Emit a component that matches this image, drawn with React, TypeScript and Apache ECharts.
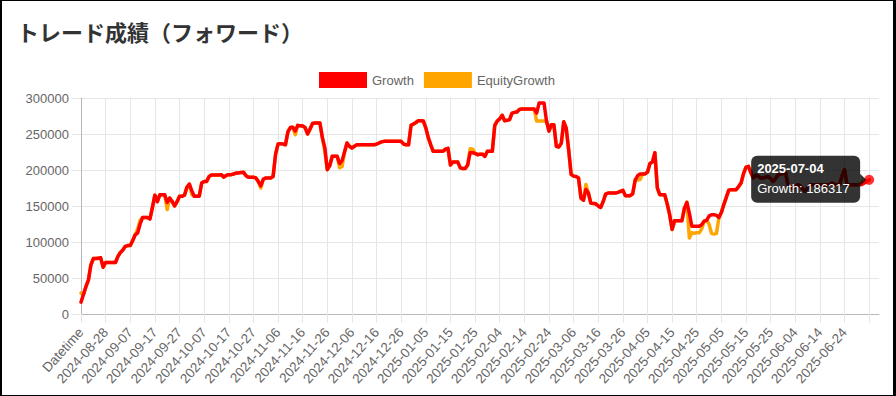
import React, { useEffect, useRef } from "react";
import * as echarts from "echarts";

const TITLE = "トレード成績（フォワード）";
const SERIES_NAMES = ["Growth", "EquityGrowth"];
const FIRST_LABEL = "Datetime";
const START_DATE = "2024-08-19";
const HOVER_INDEX = 320;
const Y_TICKS = [0, 50000, 100000, 150000, 200000, 250000, 300000];

const growth = [
  16500, 27000, 38000, 47000, 68000, 77000, 77000, 77500, 78000, 65000,
  71500, 71500, 71500, 71500, 71500, 80000, 85500, 89000, 94000, 95000,
  95000, 102000, 110000, 112500, 125000, 134000, 134000, 134000, 132000, 148000,
  165000, 156000, 165500, 165500, 165500, 155000, 161000, 156500, 150000, 156000,
  163500, 163500, 165000, 176000, 180500, 171000, 163500, 163500, 163500, 182000,
  184000, 184000, 191000, 193000, 193000, 193000, 193000, 193500, 190000, 192500,
  193500, 193500, 194500, 195800, 196000, 196500, 196800, 192000, 190000, 190000,
  190000, 189000, 184000, 178000, 187000, 189000, 189000, 189000, 191000, 222000,
  236000, 236600, 236000, 235000, 253000, 259000, 259300, 254000, 262000, 261500,
  261000, 259000, 250000, 257000, 264500, 265300, 265300, 265300, 245000, 231000,
  200500, 206000, 219000, 219000, 219000, 209000, 213000, 225000, 237500, 233000,
  230600, 233000, 235000, 235000, 235000, 235000, 235000, 235000, 235000, 235000,
  236000, 237500, 239000, 239800, 239800, 239800, 239800, 239800, 239800, 239800,
  239800, 236000, 235000, 235000, 262000, 264000, 266000, 268500, 268500, 268000,
  258500, 245000, 235000, 226000, 226000, 226000, 226000, 226000, 229000, 230000,
  207000, 211000, 211000, 211000, 203000, 202000, 202000, 207000, 224000, 224000,
  223000, 221300, 222000, 222000, 219000, 226000, 226000, 226000, 262000, 268000,
  271000, 276000, 268500, 269000, 270000, 279000, 280000, 280600, 284000, 284700,
  284700, 284700, 284700, 284700, 284700, 279000, 293000, 293000, 293000, 268000,
  254000, 263000, 263000, 233000, 232000, 237000, 267000, 258000, 228000, 194000,
  191500, 191000, 189000, 161000, 158000, 173000, 168000, 154000, 153500, 153000,
  150000, 148000, 156000, 166500, 168000, 168000, 168000, 168000, 169000, 170400,
  171800, 164400, 164400, 164400, 167000, 186000, 192000, 194500, 194500, 194500,
  197000, 209000, 211000, 224000, 175000, 165700, 165700, 165700, 153000, 138000,
  117500, 129600, 129600, 129600, 129600, 147000, 155000, 140000, 122000, 122000,
  122000, 122000, 124000, 129000, 130000, 136000, 138000, 138000, 137000, 134000,
  141000, 152000, 162000, 172000, 172700, 172700, 172700, 177000, 182000, 195000,
  204000, 205100, 196000, 189000, 193000, 191000, 189000, 189000, 190000, 191000,
  188000, 184000, 188000, 193500, 194000, 195000, 197000, 180000, 176000, 175000,
  177000, 179600, 178000, 174000, 170400, 175000, 179600, 179600, 179600, 179600,
  179600, 179600, 179600, 179600, 179600, 182000, 180000, 179600, 179600, 192000,
  200500, 180000, 179600, 179600, 179600, 179600, 179600, 180000, 182000, 184000,
  186317,
];

const equityGrowth = [
  29000, 27000, 38000, 47000, 68000, 77000, 77000, 77500, 78000, 65000,
  71500, 71500, 71500, 71500, 71500, 80000, 85500, 89000, 94000, 95000,
  95000, 102000, 110000, 118000, 130000, 134000, 134000, 134000, 132000, 148000,
  165000, 156000, 165500, 165500, 165500, 145000, 161000, 156500, 150000, 156000,
  163500, 163500, 165000, 176000, 180500, 166000, 163500, 163500, 163500, 182000,
  184000, 184000, 191000, 193000, 193000, 193000, 193000, 193500, 190000, 192500,
  193500, 193500, 194500, 195800, 196000, 196500, 196800, 192000, 190000, 190000,
  190000, 189000, 184000, 175000, 187000, 189000, 189000, 189000, 191000, 222000,
  236000, 236600, 236000, 235000, 253000, 259000, 259300, 249000, 262000, 261500,
  261000, 259000, 250000, 257000, 264500, 265300, 265300, 265300, 245000, 226000,
  200500, 206000, 219000, 219000, 219000, 203000, 205000, 225000, 237500, 233000,
  230600, 233000, 235000, 235000, 235000, 235000, 235000, 235000, 235000, 235000,
  236000, 237500, 239000, 239800, 239800, 239800, 239800, 239800, 239800, 239800,
  239800, 236000, 235000, 235000, 262000, 264000, 266000, 268500, 268500, 268000,
  258500, 245000, 235000, 226000, 226000, 226000, 226000, 226000, 229000, 230000,
  207000, 211000, 211000, 211000, 203000, 202000, 202000, 207000, 229600, 229000,
  223000, 221300, 222000, 222000, 219000, 226000, 226000, 226000, 262000, 268000,
  271000, 276000, 268500, 269000, 270000, 279000, 280000, 280600, 284000, 284700,
  284700, 284700, 284700, 284700, 284700, 268000, 268000, 268000, 268000, 268000,
  254000, 263000, 263000, 233000, 232000, 237000, 267000, 258000, 228000, 194000,
  191500, 191000, 189000, 161000, 158000, 180000, 168000, 154000, 153500, 153000,
  150000, 148000, 156000, 166500, 168000, 168000, 168000, 168000, 169000, 170400,
  171800, 164400, 164400, 164400, 167000, 186000, 186000, 186600, 194500, 194500,
  197000, 209000, 211000, 224000, 175000, 165700, 165700, 165700, 153000, 138000,
  117500, 129600, 129600, 129600, 129600, 147000, 155000, 105600, 113000, 112000,
  113000, 113000, 118000, 129000, 130000, 125000, 112000, 111000, 112000, 134000,
  141000, 152000, 162000, 172000, 172700, 172700, 172700, 177000, 182000, 195000,
  204000, 205100, 196000, 189000, 193000, 191000, 189000, 189000, 190000, 191000,
  188000, 184000, 188000, 193500, 194000, 195000, 197000, 180000, 176000, 175000,
  177000, 179600, 178000, 174000, 170400, 175000, 179600, 179600, 179600, 179600,
  179600, 179600, 179600, 179600, 179600, 182000, 180000, 179600, 179600, 192000,
  200500, 180000, 179600, 179600, 179600, 179600, 179600, 184000, 182000, 184000,
  186317,
];

function buildLabels(count: number): string[] {
  const out = [FIRST_LABEL];
  const d0 = new Date(START_DATE + "T00:00:00Z").getTime();
  for (let i = 1; i < count; i++) {
    const d = new Date(d0 + (i - 1) * 86400000);
    out.push(d.toISOString().slice(0, 10));
  }
  return out;
}

const labels = buildLabels(growth.length);

const FONT = 'Arial, "Liberation Sans", Helvetica, sans-serif';
const GRID = "#e6e6e6";
const AXIS = "#b8b8b8";

export default function App() {
  const ref = useRef<HTMLDivElement>(null);
  useEffect(() => {
    if (!ref.current) return;
    const chart = echarts.init(ref.current, null, { renderer: "svg" });
    const tickFn = (i: number) => i % 10 === 0;
    chart.setOption({
      animation: false,
      backgroundColor: "#fff",
      title: {
        text: TITLE,
        left: 17,
        top: 20,
        padding: 0,
        textStyle: {
          fontSize: 22,
          fontWeight: "bold",
          color: "#333",
          fontFamily: '"Noto Sans CJK JP", sans-serif',
        },
      },
      legend: {
        data: SERIES_NAMES,
        left: 319,
        top: 72,
        padding: 0,
        icon: "rect",
        itemWidth: 48,
        itemHeight: 16,
        itemGap: 10,
        textStyle: { fontSize: 13, color: "#666", fontFamily: FONT },
      },
      grid: {
        left: 81,
        top: 98,
        right: 17,
        bottom: 82,
        containLabel: false,
        outerBoundsMode: "none",
      },
      xAxis: {
        type: "category",
        data: labels,
        boundaryGap: false,
        max: 324,
        axisLine: { show: true, lineStyle: { color: AXIS, width: 1 } },
        axisTick: { show: true, interval: tickFn, length: 9, lineStyle: { color: GRID } },
        axisLabel: {
          interval: (i: number) => i % 10 === 0 && i <= 310,
          rotate: 48,
          fontSize: 13.5,
          color: "#666",
          fontFamily: FONT,
          margin: 16,
        },
        splitLine: { show: true, interval: tickFn, lineStyle: { color: GRID } },
      },
      yAxis: {
        type: "value",
        min: Y_TICKS[0],
        max: Y_TICKS[Y_TICKS.length - 1],
        interval: Y_TICKS[1] - Y_TICKS[0],
        axisLine: { show: true, lineStyle: { color: AXIS, width: 1 } },
        axisTick: { show: true, length: 9, lineStyle: { color: GRID } },
        axisLabel: {
          fontSize: 13,
          color: "#666",
          fontFamily: FONT,
          margin: 12,
          formatter: (v: number) => String(v),
        },
        splitLine: { show: true, lineStyle: { color: GRID } },
      },
      series: [
        {
          name: "EquityGrowth",
          type: "line",
          data: equityGrowth,
          showSymbol: false,
          color: "#ffa500",
          lineStyle: { width: 3.5, color: "#ffa500", join: "round", cap: "round" },
          z: 2,
          silent: true,
        },
        {
          name: "Growth",
          type: "line",
          data: growth,
          showSymbol: false,
          color: "#ff0000",
          lineStyle: { width: 3.5, color: "#ff0000", join: "round", cap: "round" },
          z: 3,
          silent: true,
        },
        {
          name: "hover",
          type: "scatter",
          data: [[HOVER_INDEX, growth[HOVER_INDEX]]],
          symbol: "circle",
          symbolSize: 10,
          itemStyle: { color: "#ff0000" },
          z: 4,
          silent: true,
        },
      ],
    });
    const [px, py] = chart.convertToPixel({ seriesIndex: 1 }, [HOVER_INDEX, growth[HOVER_INDEX]]) as number[];
    chart.setOption({
      graphic: [
        {
          type: "rect",
          z: 100,
          shape: { x: px - 118, y: py - 24, width: 109, height: 47, r: 6 },
          style: { fill: "rgba(0,0,0,0.8)" },
        },
        {
          type: "polygon",
          z: 100,
          shape: { points: [[px - 9, py - 6], [px - 3, py], [px - 9, py + 6]] },
          style: { fill: "rgba(0,0,0,0.8)" },
        },
        {
          type: "text",
          z: 101,
          x: px - 112,
          y: py - 11,
          style: {
            text: labels[HOVER_INDEX],
            fill: "#fff",
            font: `bold 13px ${FONT}`,
            verticalAlign: "middle",
          },
        },
        {
          type: "text",
          z: 101,
          x: px - 112,
          y: py + 9,
          style: {
            text: `${SERIES_NAMES[0]}: ${growth[HOVER_INDEX]}`,
            fill: "#fff",
            font: `13px ${FONT}`,
            verticalAlign: "middle",
          },
        },
      ],
    });
    return () => chart.dispose();
  }, []);
  return (
    <>
      <div
        ref={ref}
        style={{ position: "absolute", left: 0, top: 0, width: 896, height: 396, background: "#fff" }}
      />
      <div
        style={{
          position: "absolute",
          left: 0,
          top: 0,
          width: 896,
          height: 396,
          boxSizing: "border-box",
          borderStyle: "solid",
          borderColor: "#000",
          borderWidth: "1px 3px 1px 2px",
          pointerEvents: "none",
        }}
      />
    </>
  );
}
